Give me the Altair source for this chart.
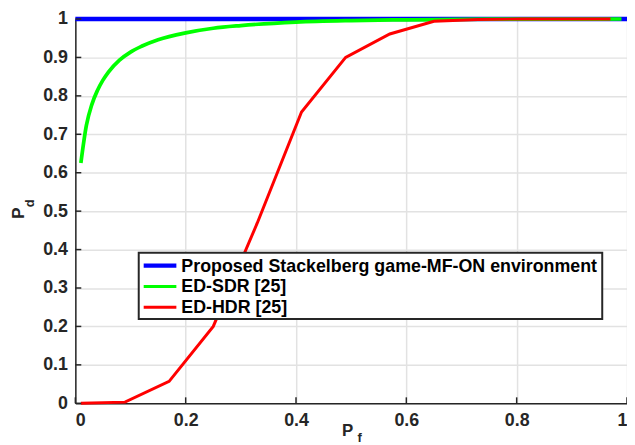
import altair as alt
import pandas as pd

# ---- data ----
series_names = ["Proposed Stackelberg game-MF-ON environment", "ED-SDR [25]", "ED-HDR [25]"]
series_colors = ["#0000ff", "#00ff00", "#ff0000"]
series_widths = [4.5, 3, 3]

blue_x = [0.0, 0.25, 0.5, 0.75, 1.0]
blue_y = [1.0, 1.0, 1.0, 1.0, 1.0]

green_x = [0.01, 0.02, 0.03, 0.04, 0.05, 0.06, 0.08, 0.10, 0.12, 0.15, 0.20,
           0.25, 0.30, 0.40, 0.50, 0.60, 0.70, 0.80, 0.90, 0.99]
green_y = [0.625, 0.723, 0.778, 0.814, 0.841, 0.862, 0.893, 0.914, 0.929, 0.946, 0.964,
           0.976, 0.983, 0.992, 0.996, 0.998, 0.999, 0.9997, 0.9999, 1.0]

red_x = [0.01, 0.09, 0.17, 0.25, 0.33, 0.41, 0.49, 0.57, 0.65, 0.73, 0.81, 0.89, 0.97]
red_y = [0.0, 0.003, 0.057, 0.20, 0.47, 0.758, 0.90, 0.961, 0.994, 0.999, 1.0, 1.0, 1.0]

x_ticks = [0, 0.2, 0.4, 0.6, 0.8, 1.0]
y_ticks = [0, 0.1, 0.2, 0.3, 0.4, 0.5, 0.6, 0.7, 0.8, 0.9, 1.0]

FONT = "Liberation Sans"
DARK = "#262626"
FS = 18

df = pd.concat([
    pd.DataFrame({"Pf": blue_x, "Pd": blue_y, "series": series_names[0]}),
    pd.DataFrame({"Pf": green_x, "Pd": green_y, "series": series_names[1]}),
    pd.DataFrame({"Pf": red_x, "Pd": red_y, "series": series_names[2]}),
])

xscale = alt.Scale(domain=[0, 1], nice=False)
yscale = alt.Scale(domain=[0, 1], nice=False)

color = alt.Color("series:N", scale=alt.Scale(domain=series_names, range=series_colors), legend=None)
width = alt.StrokeWidth("series:N", scale=alt.Scale(domain=series_names, range=series_widths), legend=None)

x_axis = alt.Axis(values=x_ticks, format="~g", title=None, grid=True, labelOverlap=False)
y_axis = alt.Axis(values=y_ticks, format=".1~f", title=None, grid=True, labelOverlap=False)

base = alt.Chart(df)
layers = []
for i, name in enumerate(series_names):
    interp = "monotone" if i == 1 else "linear"
    layers.append(
        base.transform_filter(alt.datum.series == name)
        .mark_line(interpolate=interp, clip=False)
        .encode(x=alt.X("Pf:Q", scale=xscale, axis=x_axis),
                y=alt.Y("Pd:Q", scale=yscale, axis=y_axis),
                color=color, strokeWidth=width)
    )

# inward ticks (MATLAB style)
yt = alt.Chart(pd.DataFrame({"v": y_ticks})).mark_rule(color=DARK, strokeWidth=1.5).encode(
    y=alt.Y("v:Q", scale=yscale, axis=y_axis), x=alt.value(0), x2=alt.value(6))
xt = alt.Chart(pd.DataFrame({"v": x_ticks})).mark_rule(color=DARK, strokeWidth=1.5).encode(
    x=alt.X("v:Q", scale=xscale, axis=x_axis), y=alt.value(388), y2=alt.value(382))

one = pd.DataFrame({"a": [0]})
ytitle_P = alt.Chart(one).mark_text(text="P", angle=270, font=FONT, fontWeight="bold", fontSize=17,
                                    color=DARK).encode(x=alt.value(-57), y=alt.value(196))
ytitle_d = alt.Chart(one).mark_text(text="d", angle=270, font=FONT, fontWeight="bold", fontSize=13,
                                    color=DARK).encode(x=alt.value(-46), y=alt.value(186))
xtitle_P = alt.Chart(one).mark_text(text="P", font=FONT, fontWeight="bold", fontSize=17,
                                    color=DARK).encode(x=alt.value(275), y=alt.value(416))
xtitle_f = alt.Chart(one).mark_text(text="f", font=FONT, fontWeight="bold", fontSize=13,
                                    color=DARK).encode(x=alt.value(287), y=alt.value(423))

# legend box (MATLAB style)
leg_box = alt.Chart(one).mark_rect(fill="white", stroke=DARK, strokeWidth=2).encode(
    x=alt.value(64), x2=alt.value(532), y=alt.value(236), y2=alt.value(303))
leg_items = []
for i, name in enumerate(series_names):
    row = pd.DataFrame({"t": [name]})
    yy = 249 + 21 * i
    leg_items.append(alt.Chart(row).mark_rule(color=series_colors[i], strokeWidth=series_widths[i]).encode(
        x=alt.value(69), x2=alt.value(102), y=alt.value(yy)))
    leg_items.append(alt.Chart(row).mark_text(align="left", baseline="middle", font=FONT, fontWeight="bold",
                                              fontSize=FS, color="black").encode(
        text="t:N", x=alt.value(107), y=alt.value(yy + 1)))

chart = alt.layer(*layers, yt, xt, ytitle_P, ytitle_d, xtitle_P, xtitle_f, leg_box, *leg_items).properties(
    width=557, height=388,
    autosize=alt.AutoSizeParams(type="none"),
    padding={"left": 68, "top": 9, "right": 0, "bottom": 40},
).configure_view(stroke=None).configure_axis(
    labelFont=FONT, labelFontWeight="bold", labelFontSize=FS, labelColor=DARK,
    domainColor=DARK, domainWidth=1.5, tickSize=0, labelPadding=8,
    gridColor="#e2e2e2", gridWidth=1.5,
)

chart.save("out.html", embed_options={"renderer": "svg", "actions": False})
